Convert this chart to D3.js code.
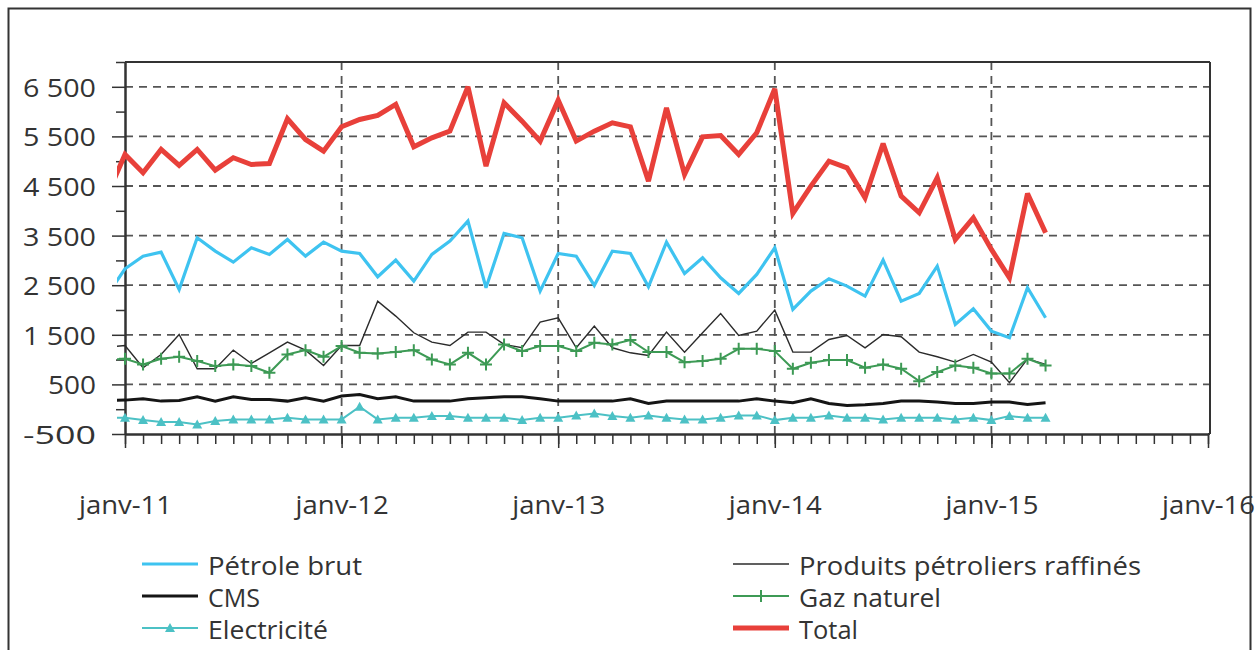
<!DOCTYPE html>
<html><head><meta charset="utf-8">
<script src="https://cdn.jsdelivr.net/npm/d3@7"></script>
<style>body{margin:0;background:#fff}svg{display:block}text{font-family:"Open Sans","Noto Sans",sans-serif;fill:#333}</style>
</head><body>
<svg id="c" width="1256" height="650"></svg>
<script>
// ---- data (first point = déc-10, then janv-11 ... avr-15) ----
const months = d3.timeMonth.range(new Date(2010, 11, 1), new Date(2015, 4, 1));
const petroleBrut = [2290,
 2831,3086,3167,2414,3456,3187,2965,3254,3120,3422,3086,3368,
 3187,3140,2670,3006,2582,3120,3389,3792,2448,3543,3456,2381,
 3140,3086,2495,3187,3140,2468,3368,2737,3053,2649,2334,2717,
 3254,2011,2381,2629,2481,2280,3006,2179,2334,2885,1709,2024,
 1574,1440,2448,1843];
const produitsRaffines = [1250,
 1285,835,1104,1507,815,815,1191,922,1137,1352,1191,882,
 1285,1285,2179,1877,1541,1352,1285,1554,1554,1306,1238,1756,
 1843,1238,1675,1238,1137,1084,1554,1151,1541,1930,1487,1574,
 1998,1151,1151,1406,1487,1238,1507,1460,1151,1057,949,1104,
 949,533,1017,902];
const cms = [180,
 183,210,163,176,250,163,250,197,197,163,230,163,
 264,297,210,250,163,163,163,210,230,250,250,210,
 163,163,163,163,210,116,163,163,163,163,163,210,
 163,130,210,116,76,90,116,163,163,143,116,116,
 143,143,96,130];
const gazNaturel = [1000,
 1016,902,1016,1057,970,869,902,869,734,1104,1191,1057,
 1272,1137,1124,1151,1191,1003,902,1137,902,1306,1171,1272,
 1272,1171,1339,1306,1393,1151,1151,949,970,1016,1218,1218,
 1171,815,936,990,990,835,902,815,566,748,882,835,
 721,721,1016,882];
const electricite = [-170,
 -173,-220,-260,-260,-307,-240,-206,-206,-206,-173,-206,-206,
 -206,49,-206,-173,-173,-139,-139,-173,-173,-173,-220,-173,
 -173,-126,-86,-139,-173,-126,-173,-206,-206,-173,-126,-126,
 -220,-173,-173,-126,-173,-173,-206,-173,-173,-173,-206,-173,
 -220,-139,-173,-173];
const total = [4300,
 5136,4766,5237,4914,5237,4820,5069,4934,4954,5855,5438,5203,
 5694,5841,5922,6144,5290,5472,5606,6500,4901,6177,5808,5405,
 6231,5405,5606,5774,5694,4598,6077,4733,5492,5519,5136,5573,
 6460,3946,4497,5001,4867,4262,5358,4296,3960,4665,3422,3859,
 3221,2649,4350,3557];
const xTickLabels = ["janv-11","janv-12","janv-13","janv-14","janv-15","janv-16"];
const yTickValues = [-500,500,1500,2500,3500,4500,5500,6500];
const yTickLabels = ["-500","500","1 500","2 500","3 500","4 500","5 500","6 500"];
const yMinorValues = [0,1000,2000,3000,4000,5000,6000,7000];

const series = [
  {name:"Pétrole brut", values:petroleBrut, color:"#3ec3f0", width:3.2},
  {name:"Produits pétroliers raffinés", values:produitsRaffines, color:"#2b2b2b", width:1.4},
  {name:"CMS", values:cms, color:"#151515", width:3},
  {name:"Gaz naturel", values:gazNaturel, color:"#3d9a55", width:2, marker:"plus"},
  {name:"Electricité", values:electricite, color:"#4cc1c5", width:2, marker:"tri"},
  {name:"Total", values:total, color:"#e8403a", width:5}
];

// ---- layout ----
const svg = d3.select("#c");
const L = 117, X0 = 125, X1 = 1208, R = 1210, T = 62, B = 434;
const monthIndex = d => (d.getFullYear() - 2011) * 12 + d.getMonth();
const x = d3.scaleLinear().domain([0, 60]).range([X0, X1]);
const y = d3.scaleLinear().domain([-500, 7000]).range([B, T]);

// outer frame
svg.append("rect").attr("x", 8.5).attr("y", 8.5).attr("width", 1242).attr("height", 700)
  .attr("fill", "none").attr("stroke", "#333").attr("stroke-width", 2);

// gridlines
const grid = svg.append("g").attr("stroke", "#555").attr("stroke-width", 1.8).attr("stroke-dasharray", "8,6");
grid.selectAll("line.h").data(yTickValues.filter(v => v > -500)).join("line")
  .attr("x1", X0).attr("x2", R).attr("y1", d => y(d)).attr("y2", d => y(d));
grid.selectAll("line.v").data([12, 24, 36, 48]).join("line")
  .attr("y1", T).attr("y2", B).attr("x1", d => x(d)).attr("x2", d => x(d));

// frame lines
const fr = svg.append("g").attr("stroke", "#333").attr("stroke-width", 2);
fr.append("line").attr("x1", X0).attr("x2", R).attr("y1", T).attr("y2", T);
fr.append("line").attr("x1", R).attr("x2", R).attr("y1", T).attr("y2", B);

// axes
const yMinor = svg.append("g").attr("transform", `translate(${X0},0)`)
  .call(d3.axisLeft(y).tickValues(yMinorValues).tickSize(9).tickSizeOuter(0).tickFormat(""));
const yAx = svg.append("g").attr("transform", `translate(${X0},0)`)
  .call(d3.axisLeft(y).tickValues(yTickValues).tickSize(13).tickSizeOuter(0).tickPadding(16)
    .tickFormat((d, i) => yTickLabels[i]));
yAx.selectAll("text").attr("font-size", 25).attr("dy", "0.38em")
  .attr("textLength", (d, i) => yTickLabels[i] === "500" ? 48 : 73)
  .attr("lengthAdjust", "spacingAndGlyphs");

const xMinor = svg.append("g").attr("transform", `translate(0,${B})`)
  .call(d3.axisBottom(x).tickValues(d3.range(0, 61)).tickSize(10).tickSizeOuter(0).tickFormat(""));
const xAx = svg.append("g").attr("transform", `translate(0,${B})`)
  .call(d3.axisBottom(x).tickValues([0, 12, 24, 36, 48, 60]).tickSize(14).tickSizeOuter(0)
    .tickFormat((d, i) => xTickLabels[i]));
xAx.selectAll("text").attr("font-size", 25).attr("y", 80).attr("dy", null)
  .attr("textLength", 93).attr("lengthAdjust", "spacingAndGlyphs");
svg.selectAll(".domain").attr("stroke", "#333").attr("stroke-width", 2);
svg.selectAll(".tick line").attr("stroke", "#333").attr("stroke-width", 1.5);
svg.append("line").attr("x1", X1).attr("x2", R).attr("y1", B).attr("y2", B).attr("stroke", "#333").attr("stroke-width", 2);

// clip
svg.append("clipPath").attr("id", "clip").append("rect")
  .attr("x", L).attr("y", T - 10).attr("width", R - L).attr("height", B - T + 20);
const plot = svg.append("g").attr("clip-path", "url(#clip)");

const line = d3.line().x((d, i) => x(monthIndex(months[i]))).y(d => y(d));
const order = [0, 1, 3, 2, 4, 5];
order.forEach(k => {
  const s = series[k];
  plot.append("path").datum(s.values).attr("d", line)
    .attr("fill", "none").attr("stroke", s.color).attr("stroke-width", s.width)
    .attr("stroke-linejoin", "miter").attr("stroke-miterlimit", 3);
  if (s.marker === "plus") {
    plot.append("g").selectAll("path").data(s.values).join("path")
      .attr("transform", (d, i) => `translate(${x(monthIndex(months[i]))},${y(d)})`)
      .attr("d", "M-6,0H6M0,-6V6").attr("stroke", s.color).attr("stroke-width", 2);
  }
  if (s.marker === "tri") {
    plot.append("g").selectAll("path").data(s.values).join("path")
      .attr("transform", (d, i) => `translate(${x(monthIndex(months[i]))},${y(d)})`)
      .attr("d", "M0,-5L5,4L-5,4Z").attr("fill", s.color);
  }
});

// legend
const legendPos = [
  {k:0, lx:142, tx:208, y:564, w:154},
  {k:2, lx:142, tx:208, y:596, w:52},
  {k:4, lx:142, tx:208, y:628, w:120},
  {k:1, lx:733, tx:799, y:564, w:342},
  {k:3, lx:733, tx:799, y:596, w:142},
  {k:5, lx:733, tx:799, y:628, w:59}
];
const lg = svg.append("g");
legendPos.forEach(p => {
  const s = series[p.k];
  const len = 56;
  lg.append("line").attr("x1", p.lx).attr("x2", p.lx + len).attr("y1", p.y).attr("y2", p.y)
    .attr("stroke", s.color).attr("stroke-width", s.width);
  if (s.marker === "plus") {
    lg.append("path").attr("transform", `translate(${p.lx + len / 2},${p.y})`)
      .attr("d", "M-6,0H6M0,-6V6").attr("stroke", s.color).attr("stroke-width", 2);
  }
  if (s.marker === "tri") {
    lg.append("path").attr("transform", `translate(${p.lx + len / 2},${p.y})`)
      .attr("d", "M0,-5L5,4L-5,4Z").attr("fill", s.color);
  }
  lg.append("text").attr("x", p.tx).attr("y", p.y + 11).attr("font-size", 25)
    .attr("textLength", p.w).attr("lengthAdjust", "spacingAndGlyphs").text(s.name);
});
</script>
</body></html>
